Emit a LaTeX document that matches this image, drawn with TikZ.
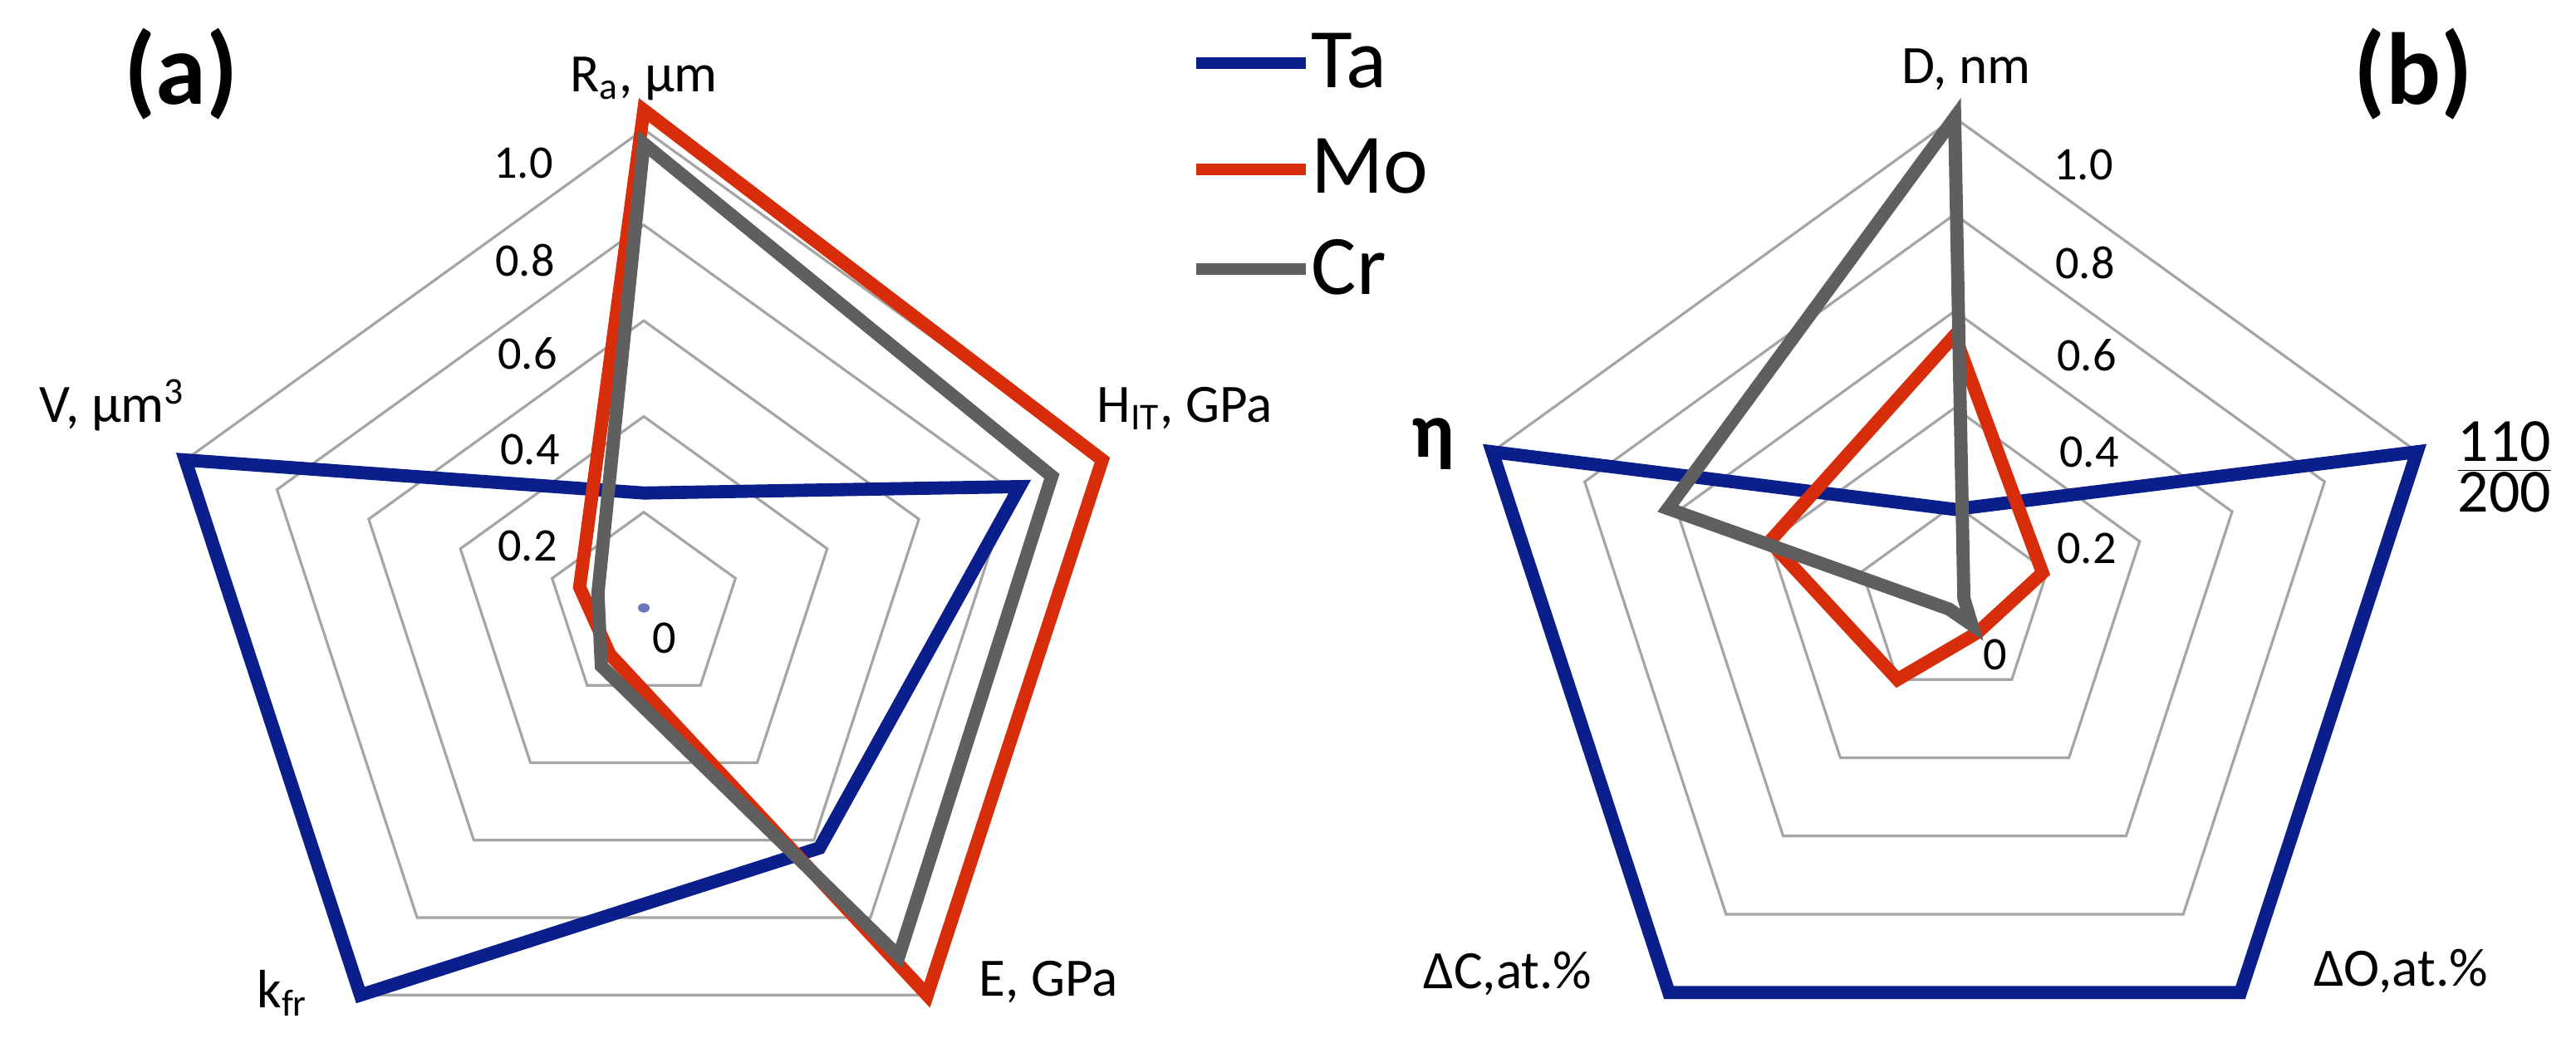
\documentclass[tikz,border=0pt]{standalone}
\usepackage{fontspec}
\setmainfont{Carlito}
\begin{document}
\definecolor{ta}{RGB}{10,30,140}
\definecolor{mo}{RGB}{215,45,10}
\definecolor{cr}{RGB}{95,95,95}
\definecolor{grid}{RGB}{165,165,165}
\begin{tikzpicture}[x=0.01cm,y=-0.008cm,
  gridl/.style={grid,line width=0.9pt,line join=miter},
  ser/.style={line width=4.5pt,line join=miter},
  tick/.style={font=\fontsize{16}{18}\selectfont,inner sep=0pt},
  axl/.style={font=\fontsize{18.5}{21}\selectfont,inner sep=0pt},
  leg/.style={font=\fontsize{29}{32}\selectfont,inner sep=0pt,anchor=west},
  pan/.style={font=\fontsize{35}{38}\selectfont\bfseries,inner sep=0pt}]
\useasboundingbox (0,0) rectangle (3101,1568.75);
\fill[white] (0,0) rectangle (3101,1568.75);

% ---------- panel (a) ----------
\begin{scope}[shift={(775,915)},x=5.8cm,y=5.76cm]
  \foreach \l in {0.2,0.4,0.6,0.8,1.0}
    \draw[gridl] (90:\l)--(18:\l)--(-54:\l)--(-126:\l)--(162:\l)--cycle;
  \foreach \n/\a/\b/\c/\d/\e in {aTa/0.24/0.82/0.62/1.0/1.0,
                               aMo/1.04/1.0/1.0/0.12/0.14,
                               aCr/0.97/0.89/0.9/0.15/0.1}{
    \coordinate (\n1) at (90:\a);
    \coordinate (\n2) at (18:\b);
    \coordinate (\n3) at (-54:\c);
    \coordinate (\n4) at (-126:\d);
    \coordinate (\n5) at (162:\e);
  }
  \coordinate (ac) at (0,0);
\end{scope}
\draw[ser,ta] (aTa1)--(aTa2)--(aTa3)--(aTa4)--(aTa5)--cycle;
\draw[ser,mo] (aMo1)--(aMo2)--(aMo3)--(aMo4)--(aMo5)--cycle;
\draw[ser,cr] (aCr1)--(aCr2)--(aCr3)--(aCr4)--(aCr5)--cycle;
\fill[ta!60!white] (ac) circle (7);
\node[tick] (a10) at (630,245) {1.0};
\node[tick] (a08) at (632,392) {0.8};
\node[tick] (a06) at (635,532) {0.6};
\node[tick] (a04) at (638,677) {0.4};
\node[tick] (a02) at (635,822) {0.2};
\node[tick] (a00) at (800,960) {0};
\node[axl] (lRa) at (775,118) {R\textsubscript{a}, µm};
\node[axl,anchor=west] (lH) at (1320,615) {H\textsubscript{IT}, GPa};
\node[axl,anchor=west] (lE) at (1178,1478) {E, GPa};
\node[axl] (lk) at (340,1495) {k\textsubscript{fr}};
\node[axl] (lV) at (135,610) {V, µm\textsuperscript{3}};
\node[pan] (pa) at (218,112) {(a)};

% ---------- legend ----------
\coordinate (l1a) at (1440,95);  \coordinate (l1b) at (1572,95);
\coordinate (l2a) at (1440,255); \coordinate (l2b) at (1572,255);
\coordinate (l3a) at (1440,405); \coordinate (l3b) at (1572,405);
\draw[ta,line width=4pt] (l1a)--(l1b);
\draw[mo,line width=4pt] (l2a)--(l2b);
\draw[cr,line width=4pt] (l3a)--(l3b);
\node[leg] (tTa) at (1578,92) {Ta};
\node[leg] (tMo) at (1578,250) {Mo};
\node[leg] (tCr) at (1578,402) {Cr};

% ---------- panel (b) ----------
\begin{scope}[shift={(2353,905)},x=5.85cm,y=5.82cm]
  \foreach \l in {0.2,0.4,0.6,0.8,1.0}
    \draw[gridl] (90:\l)--(18:\l)--(-54:\l)--(-126:\l)--(162:\l)--cycle;
  \foreach \n/\a/\b/\c/\d/\e in {bTa/0.19/1.0/1.0/1.0/1.0,
                               bMo/0.55/0.19/0.08/0.2/0.4,
                               bCr/1.0/0.02/0.06/0.02/0.62}{
    \coordinate (\n1) at (90:\a);
    \coordinate (\n2) at (18:\b);
    \coordinate (\n3) at (-54:\c);
    \coordinate (\n4) at (-126:\d);
    \coordinate (\n5) at (162:\e);
  }
\end{scope}
\draw[ser,ta] (bTa1)--(bTa2)--(bTa3)--(bTa4)--(bTa5)--cycle;
\draw[ser,mo] (bMo1)--(bMo2)--(bMo3)--(bMo4)--(bMo5)--cycle;
\draw[ser,cr] (bCr1)--(bCr2)--(bCr3)--(bCr4)--(bCr5)--cycle;
\node[tick] (b10) at (2508,248) {1.0};
\node[tick] (b08) at (2510,395) {0.8};
\node[tick] (b06) at (2512,535) {0.6};
\node[tick] (b04) at (2515,680) {0.4};
\node[tick] (b02) at (2512,825) {0.2};
\node[tick] (b00) at (2402,985) {0};
\node[axl] (lD) at (2367,105) {D, nm};
\node[axl,font=\fontsize{27}{30}\selectfont\bfseries] (lEta) at (1725,668) {η};
\node[axl,font=\fontsize{21}{23}\selectfont] (lF) at (3015,703) {$\frac{\mbox{110}}{\mbox{200}}$};
\node[axl] (lC) at (1815,1465) {ΔC,at.\%};
\node[axl] (lO) at (2890,1462) {ΔO,at.\%};
\node[pan] (pb) at (2905,112) {(b)};
\end{tikzpicture}
\end{document}
